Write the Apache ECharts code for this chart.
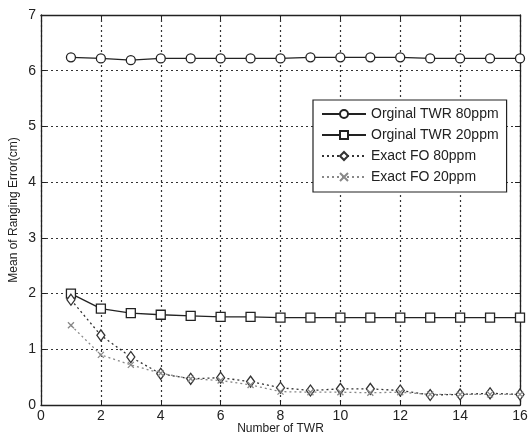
<!DOCTYPE html>
<html><head><meta charset="utf-8">
<script src="https://cdn.jsdelivr.net/npm/echarts@6/dist/echarts.min.js"></script>
<style>html,body{margin:0;padding:0;background:#fff}#c{width:529px;height:439px}</style>
</head><body><div id="c"></div>
<script>
const twrCounts = [1,2,3,4,5,6,7,8,9,10,11,12,13,14,15,16];
const orig80 = [6.24,6.22,6.19,6.22,6.22,6.22,6.22,6.22,6.24,6.24,6.24,6.24,6.22,6.22,6.22,6.22];
const orig20 = [2.00,1.73,1.65,1.62,1.60,1.58,1.58,1.57,1.57,1.57,1.57,1.57,1.57,1.57,1.57,1.57];
const exact80 = [1.89,1.25,0.86,0.56,0.47,0.49,0.42,0.31,0.26,0.29,0.29,0.26,0.18,0.19,0.21,0.19];
const exact20 = [1.43,0.90,0.72,0.57,0.47,0.44,0.36,0.24,0.23,0.23,0.22,0.23,0.19,0.19,0.19,0.19];
const seriesNames = ['Orginal TWR 80ppm','Orginal TWR 20ppm','Exact FO 80ppm','Exact FO 20ppm'];
const xTicks = [0,2,4,6,8,10,12,14,16];
const yTicks = [0,1,2,3,4,5,6,7];

const pair = arr => twrCounts.map((x,i)=>[x,arr[i]]);
const font = 'Liberation Sans, Arial, sans-serif';
const axisCommon = {
  axisLine:{show:true,onZero:false,lineStyle:{color:'#222',width:1.3}},
  axisTick:{show:true,inside:true,length:5,lineStyle:{color:'#222'}},
};
const chart = echarts.init(document.getElementById('c'));
chart.setOption({
  backgroundColor:'#fff',
  animation:false,
  grid:{left:41,right:9,top:15,bottom:34,containLabel:false,outerBoundsMode:'none'},
  legend:{
    orient:'vertical', left:313, top:100, width:194,
    data:seriesNames,
    backgroundColor:'#fff', borderColor:'#222', borderWidth:1.2,
    padding:[7,8,8,8], itemGap:7, itemWidth:44, itemHeight:10,
    textStyle:{fontFamily:font,fontSize:14,color:'#222'}
  },
  xAxis:[
    Object.assign({type:'value',min:0,max:16,interval:2,position:'bottom',
      name:'Number of TWR',nameLocation:'middle',nameGap:18,nameMoveOverlap:false,
      nameTextStyle:{fontFamily:font,fontSize:12,color:'#222'},
      axisLabel:{fontFamily:font,fontSize:14,color:'#222',margin:4,
        formatter:v=>xTicks.includes(v)?String(v):''},
      splitLine:{show:true,lineStyle:{type:[2,3],color:'#333',width:1.2}}},axisCommon),
    Object.assign({type:'value',min:0,max:16,interval:2,position:'top',
      axisLabel:{show:false},splitLine:{show:false}},axisCommon)
  ],
  yAxis:[
    Object.assign({type:'value',min:0,max:7,interval:1,position:'left',
      name:'Mean of Ranging Error(cm)',nameLocation:'middle',nameGap:21,nameMoveOverlap:false,
      nameTextStyle:{fontFamily:font,fontSize:12,color:'#222'},
      axisLabel:{fontFamily:font,fontSize:14,color:'#222',margin:5,
        formatter:v=>yTicks.includes(v)?String(v):''},
      splitLine:{show:true,lineStyle:{type:[2,3],color:'#333',width:1.2}}},axisCommon),
    Object.assign({type:'value',min:0,max:7,interval:1,position:'right',
      axisLabel:{show:false},splitLine:{show:false}},axisCommon)
  ],
  series:[
    {name:seriesNames[0],type:'line',data:pair(orig80),symbol:'circle',symbolSize:9,
      lineStyle:{color:'#222',width:1.3},itemStyle:{color:'#fff',borderColor:'#222',borderWidth:1.3},color:'#222'},
    {name:seriesNames[1],type:'line',data:pair(orig20),symbol:'rect',symbolSize:9,
      lineStyle:{color:'#222',width:1.3},itemStyle:{color:'#fff',borderColor:'#222',borderWidth:1.3},color:'#222'},
    {name:seriesNames[2],type:'line',data:pair(exact80),symbol:'diamond',symbolSize:[8,11],
      lineStyle:{color:'#333',width:1.3,type:[2,3]},itemStyle:{color:'#fff',borderColor:'#333',borderWidth:1.3},color:'#333'},
    {name:seriesNames[3],type:'line',data:pair(exact20),
      symbol:'path://M0,0L10,10M10,0L0,10',symbolSize:6,
      lineStyle:{color:'#888',width:1.3,type:[2,3]},itemStyle:{color:'#888',borderColor:'#888',borderWidth:1.3},color:'#888'}
  ]
});
</script></body></html>
